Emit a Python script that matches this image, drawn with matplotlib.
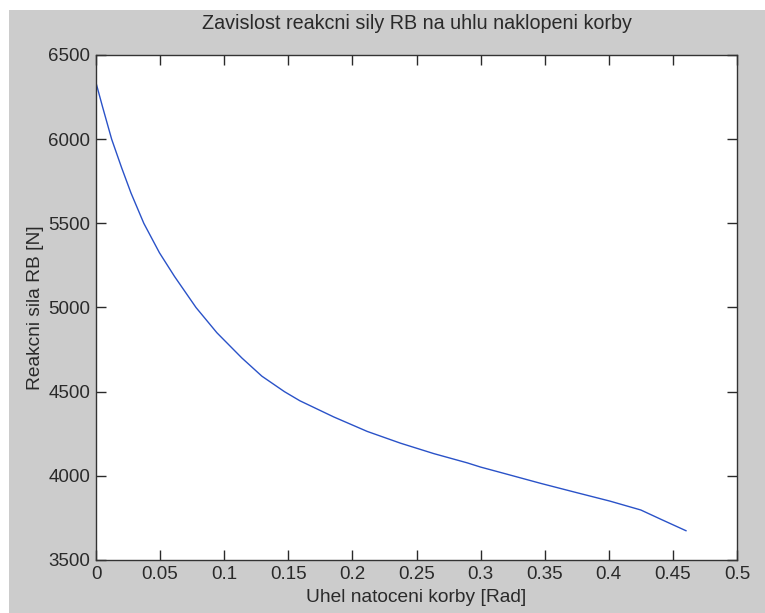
import matplotlib
matplotlib.use("Agg")
import matplotlib.pyplot as plt
from matplotlib.patches import Rectangle

# uhel naklopeni korby [rad] a reakcni sila RB [N]
uhel = [0.0, 0.005, 0.0122, 0.02, 0.0273, 0.0373, 0.0495, 0.0612, 0.078,
        0.0943, 0.1138, 0.1294, 0.147, 0.159, 0.1854, 0.2115, 0.2375,
        0.2635, 0.2896, 0.3, 0.3156, 0.347, 0.375, 0.4008, 0.425, 0.4406, 0.4602]
sila = [6335, 6195, 6000, 5830, 5680, 5500, 5325, 5185, 5000,
        4850, 4700, 4592, 4500, 4446, 4350, 4264, 4194,
        4132, 4077, 4052, 4020, 3955, 3900, 3850, 3797, 3742, 3674]

xticks = [0, 0.05, 0.1, 0.15, 0.2, 0.25, 0.3, 0.35, 0.4, 0.45, 0.5]
xticklabels = ["0", "0.05", "0.1", "0.15", "0.2", "0.25", "0.3", "0.35", "0.4", "0.45", "0.5"]
yticks = [3500, 4000, 4500, 5000, 5500, 6000, 6500]

plt.rcParams['font.family'] = ['Liberation Sans', 'DejaVu Sans']

fig = plt.figure(figsize=(7.65, 6.13), dpi=100, facecolor='white')
# sede pozadi okna (MATLAB)
fig.add_artist(Rectangle((9 / 765, 0), 1, 1 - 10 / 613, transform=fig.transFigure,
                         facecolor='#cccccc', edgecolor='none', zorder=-10))

ax = fig.add_axes([96 / 765, 1 - 560 / 613, 641 / 765, 505 / 613])
ax.set_zorder(1)
ax.set_facecolor('white')
ax.plot(uhel, sila, color='#2a52c8', lw=1.0)

ax.set_xlim(0, 0.5)
ax.set_ylim(3500, 6500)
ax.set_xticks(xticks)
ax.set_xticklabels(xticklabels)
ax.set_yticks(yticks)
ax.tick_params(direction='in', length=7, width=1, top=True, right=True,
               labelsize=13.5, colors='#2a2a2a', pad=4)
for s in ax.spines.values():
    s.set_color('#333333')
    s.set_linewidth(1)

ax.set_title('Zavislost reakcni sily RB na uhlu naklopeni korby', fontsize=14.2,
             color='#2a2a2a', pad=19)
ax.set_xlabel('Uhel natoceni korby [Rad]', fontsize=13.8, color='#2a2a2a', labelpad=5)
ax.set_ylabel('Reakcni sila RB [N]', fontsize=13.8, color='#2a2a2a', labelpad=3)

fig.savefig('out.png', dpi=100, facecolor=fig.get_facecolor())
